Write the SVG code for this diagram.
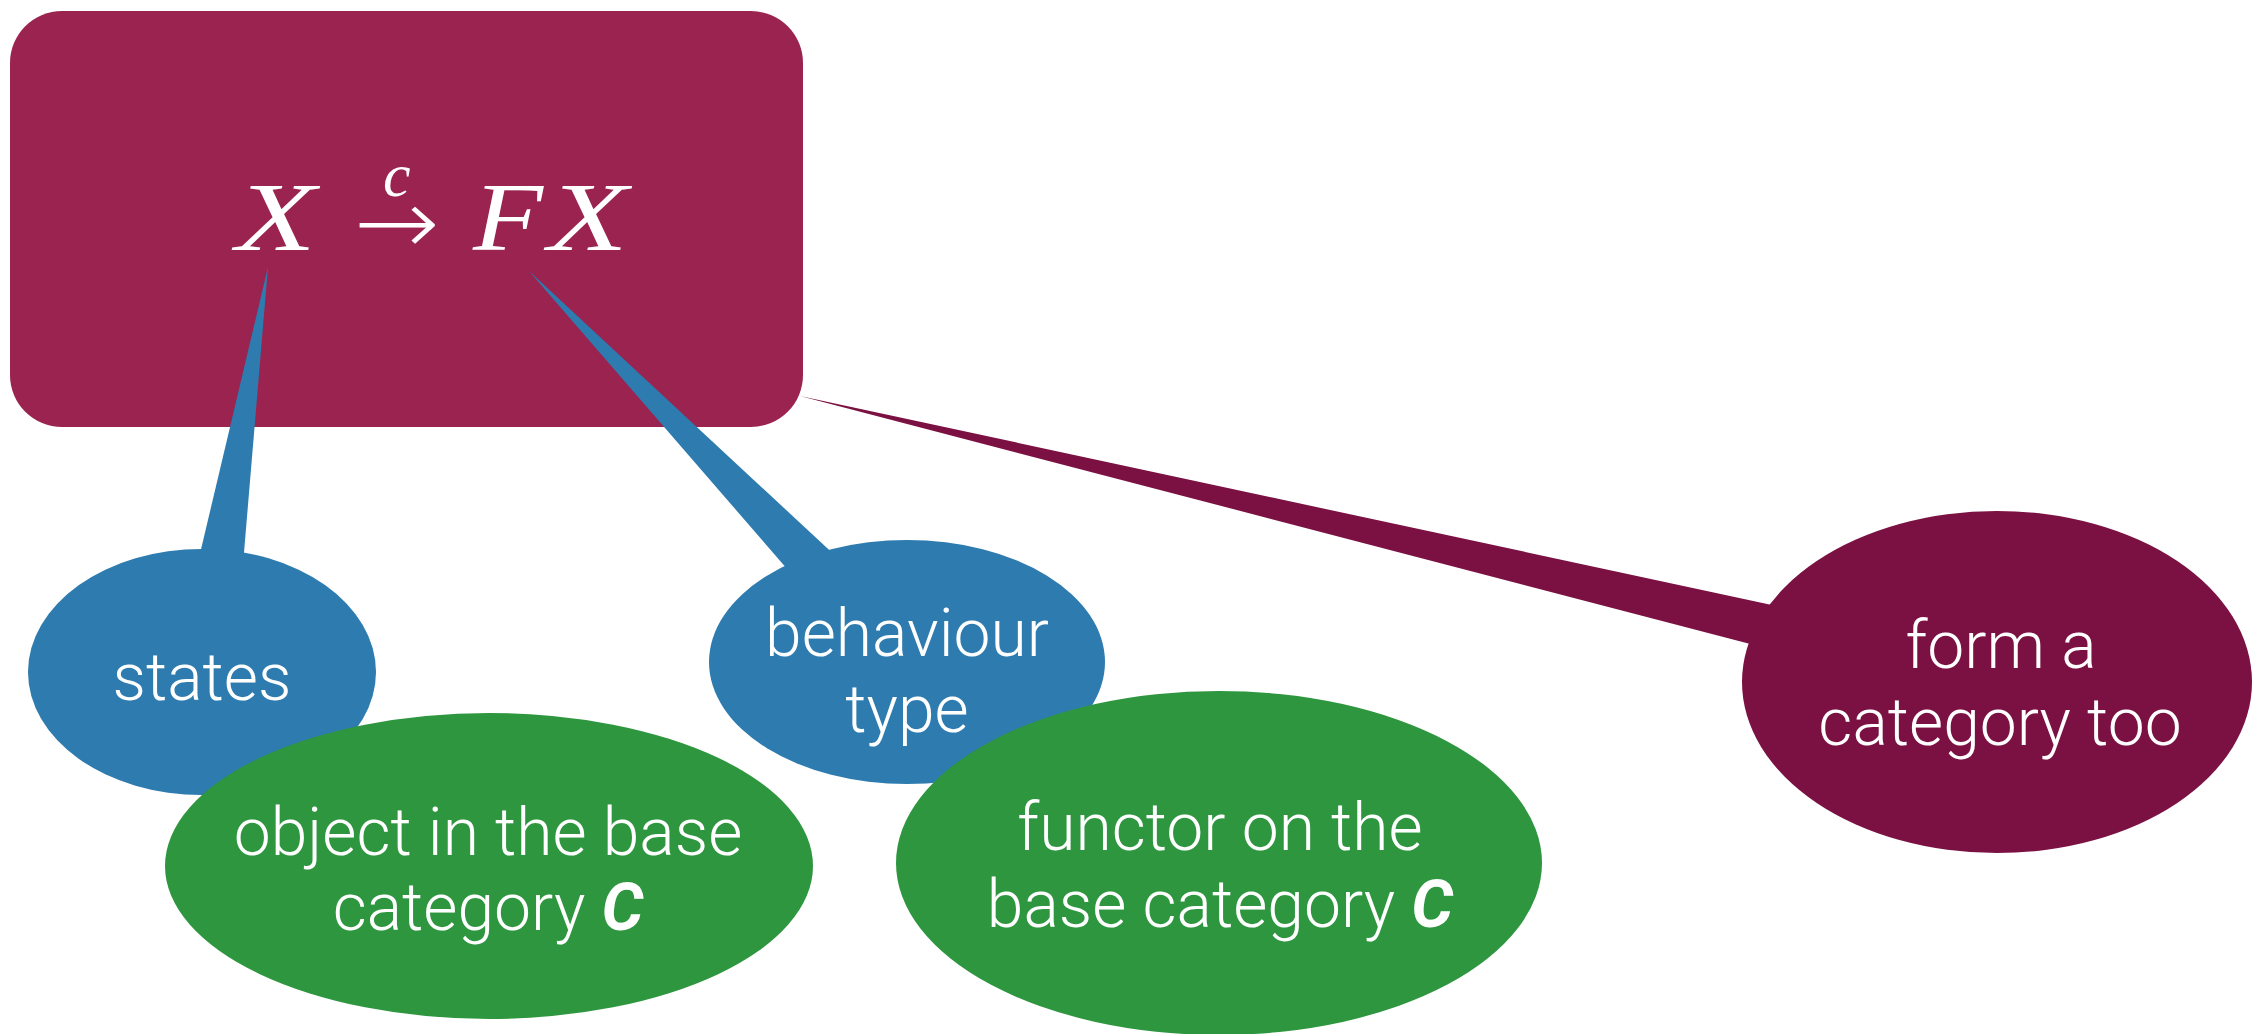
<svg xmlns="http://www.w3.org/2000/svg" width="2254" height="1034" viewBox="0 0 2254 1034">
  <style>
    .lbl { font-family: Roboto, "Liberation Sans", Arial, sans-serif; font-weight: 300; font-size: 66px; fill: #ffffff; text-anchor: middle; }
    .bc { font-weight: bold; font-style: italic; }
    .math { font-family: "Liberation Serif", "DejaVu Serif", serif; font-style: italic; fill: #ffffff; }
    .blue { fill: #2D7BAF; }
    .green { fill: #2E963F; }
    .maroon { fill: #7B1142; }
  </style>
  <rect width="2254" height="1034" fill="#ffffff"/>

  <g id="formula-box">
    <rect x="10" y="11" width="793" height="416" rx="52" ry="52" fill="#9B2350"/>
    <text class="math" x="236" y="250" font-size="98" textLength="80" lengthAdjust="spacingAndGlyphs">X</text>
    <text x="354" y="254" font-family="DejaVu Sans, sans-serif" font-weight="200" font-size="92" fill="#ffffff" textLength="86" lengthAdjust="spacingAndGlyphs">→</text>
    <text class="math" x="383" y="196" font-size="62">c</text>
    <text class="math" x="473" y="250" font-size="98" textLength="70" lengthAdjust="spacingAndGlyphs">F</text>
    <text class="math" x="548" y="250" font-size="98" textLength="80" lengthAdjust="spacingAndGlyphs">X</text>
  </g>

  <g id="connectors">
    <polygon class="maroon" points="800,396 1800,611 1800,657"/>
    <polygon class="blue" points="268,267 189,600 240,600"/>
    <polygon class="blue" points="529,271 814,600 883,600"/>
  </g>

  <g id="states">
    <ellipse class="blue" cx="202" cy="672" rx="174" ry="123"/>
    <text class="lbl" x="202" y="700">states</text>
  </g>

  <g id="object">
    <ellipse class="green" cx="489" cy="866" rx="324" ry="153"/>
    <text class="lbl" x="488" y="855">object in the base</text>
    <text class="lbl" x="488" y="930">category <tspan class="bc">C</tspan></text>
  </g>

  <g id="behaviour">
    <ellipse class="blue" cx="907" cy="662" rx="198" ry="122"/>
    <text class="lbl" x="907" y="656">behaviour</text>
    <text class="lbl" x="907" y="732">type</text>
  </g>

  <g id="functor">
    <ellipse class="green" cx="1219" cy="863" rx="323" ry="172"/>
    <text class="lbl" x="1220" y="850">functor on the</text>
    <text class="lbl" x="1220" y="927">base category <tspan class="bc">C</tspan></text>
  </g>

  <g id="category">
    <ellipse class="maroon" cx="1997" cy="682" rx="255" ry="171"/>
    <text class="lbl" x="2001" y="668">form a</text>
    <text class="lbl" x="2000" y="745">category too</text>
  </g>
</svg>
